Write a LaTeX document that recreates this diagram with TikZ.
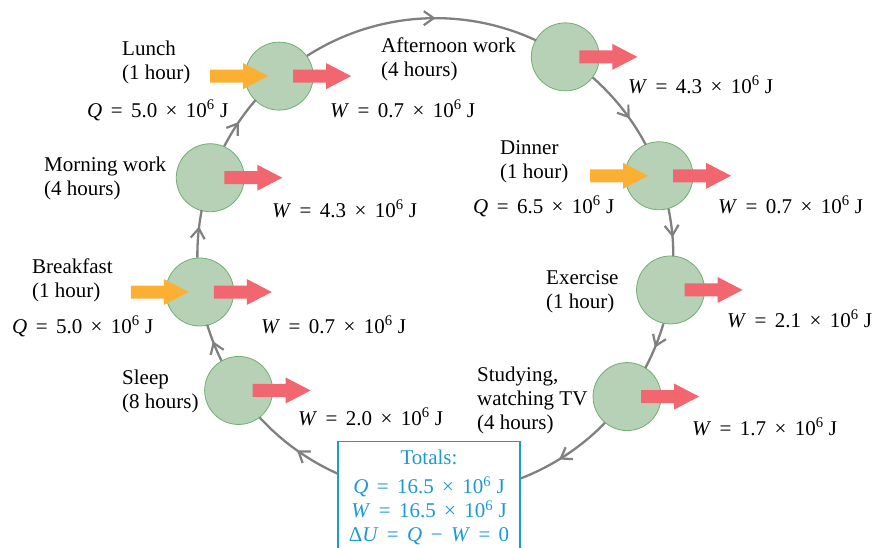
\documentclass[tikz,border=0pt]{standalone}
\usepackage{fontspec}
\setmainfont{Liberation Serif}
\usetikzlibrary{calc,arrows.meta,decorations.markings}
\definecolor{cycgray}{HTML}{808080}
\definecolor{cfill}{HTML}{B6D1B6}
\definecolor{cedge}{HTML}{6FB06F}
\definecolor{qorange}{HTML}{FBB034}
\definecolor{wred}{HTML}{F2666F}
\definecolor{tcyan}{HTML}{1D9AD4}
\newcommand\eqgap{\hspace{0.4em}}
\newcommand\Wlab[1]{\textit{W}\eqgap=\eqgap#1\eqgap×\eqgap10\textsuperscript{6}~J}
\newcommand\Qlab[1]{\textit{Q}\eqgap=\eqgap#1\eqgap×\eqgap10\textsuperscript{6}~J}
\begin{document}
\begin{tikzpicture}[x=1pt,y=1pt,
  every node/.style={font=\fontsize{21}{24}\selectfont},
  lbl/.style={anchor=base west, inner sep=0pt, align=left, text=black},
  stage/.style={circle, minimum size=68pt, inner sep=0pt, fill=cfill, draw=cedge, line width=0.8pt},
  cyc/.style={draw=cycgray, line width=2.3pt, postaction={decorate}},
  mk/.style={decoration={markings, mark=at position #1 with {\arrow[cycgray, line width=2.2pt]{Straight Barb[length=10pt,width=14pt]}}}},
  mktwo/.style 2 args={decoration={markings,
     mark=at position #1 with {\arrow[cycgray, line width=2.2pt]{Straight Barb[length=10pt,width=14pt]}},
     mark=at position #2 with {\arrow[cycgray, line width=2.2pt]{Straight Barb[length=10pt,width=14pt]}}}},
  totbox/.style={draw=tcyan, fill=white, text=tcyan, line width=1.2pt, minimum width=182pt,
     align=center, inner xsep=0pt, inner ysep=8.4pt, anchor=north,
     font=\fontsize{21}{24}\selectfont},
  pics/blockarrow/.style={code={\fill[#1] (0,-6.5) -- (33,-6.5) -- (33,-13) -- (58,0) -- (33,13) -- (33,6.5) -- (0,6.5) -- cycle;}}
]
\useasboundingbox (0,0) rectangle (872,-547);
\clip (0,0) rectangle (872,-547);
\coordinate (C) at (435,-256);

% stages
\node[stage] (lunch) at ($(C)+(130.9:238)$) {};
\node[stage] (aft)   at ($(C)+(56.8:238)$) {};
\node[stage] (din)   at ($(C)+(19.7:238)$) {};
\node[stage] (ex)    at ($(C)+(-8.2:238)$) {};
\node[stage] (stud)  at ($(C)+(-36.2:238)$) {};
\node[stage] (sleep) at ($(C)+(214.4:238)$) {};
\node[stage] (brk)   at ($(C)+(188.7:238)$) {};
\node[stage] (morn)  at ($(C)+(160.8:238)$) {};

% cycle (arcs of one big circle, from stage to stage)
\draw[cyc, mk=0.567] (lunch.36.8) arc[start angle=122.71, end angle=64.99, radius=238];
\draw[cyc, mk=0.64] (aft.-37.3) arc[start angle=48.61, end angle=27.89, radius=238];
\draw[cyc, mk=0.6] (din.-74.4) arc[start angle=11.51, end angle=0, radius=238];
\draw[cyc, mk=0.526] (ex.-102.3) arc[start angle=-16.39, end angle=-28.01, radius=238];
\draw[cyc, mktwo={0.152}{0.871}] (stud.-130.3) arc[start angle=-44.39, end angle=-137.41, radius=238];
\draw[cyc, mk=0.548] (sleep.120.3) arc[start angle=206.21, end angle=196.89, radius=238];
\draw[cyc, mk=0.652] (brk.94.6) arc[start angle=180.51, end angle=168.99, radius=238];
\draw[cyc, mk=0.504] (morn.66.7) arc[start angle=152.61, end angle=139.09, radius=238];

% energy arrows
\pic at ([xshift=-69pt]lunch.center) {blockarrow=qorange};
\pic at ([xshift=-69pt]din.center) {blockarrow=qorange};
\pic at ([xshift=-69pt]brk.center) {blockarrow=qorange};
\foreach \s in {lunch,aft,din,ex,stud,sleep,brk,morn}
  \pic at ([xshift=14pt]\s.center) {blockarrow=wred};

% labels (base = last line)
\node[lbl] (lunchL) at (122,-79) {Lunch\\(1 hour)};
\node[lbl] (lunchQ) at (87,-117) {\Qlab{5.0}};
\node[lbl] (lunchW) at (330,-117) {\Wlab{0.7}};
\node[lbl] (aftL) at (381,-76) {Afternoon work\\(4 hours)};
\node[lbl] (aftW) at (628,-93) {\Wlab{4.3}};
\node[lbl] (dinL) at (500,-178) {Dinner\\(1 hour)};
\node[lbl] (dinQ) at (473,-213) {\Qlab{6.5}};
\node[lbl] (dinW) at (718,-213) {\Wlab{0.7}};
\node[lbl] (exL) at (546,-308) {Exercise\\(1 hour)};
\node[lbl] (exW) at (727,-327) {\Wlab{2.1}};
\node[lbl] (studL) at (477,-429) {Studying,\\watching TV\\(4 hours)};
\node[lbl] (studW) at (692,-435) {\Wlab{1.7}};
\node[lbl] (sleepL) at (122,-408) {Sleep\\(8 hours)};
\node[lbl] (sleepW) at (298,-425) {\Wlab{2.0}};
\node[lbl] (brkL) at (32,-297) {Breakfast\\(1 hour)};
\node[lbl] (brkQ) at (12,-333) {\Qlab{5.0}};
\node[lbl] (brkW) at (261,-333) {\Wlab{0.7}};
\node[lbl] (mornL) at (44,-195) {Morning work\\(4 hours)};
\node[lbl] (mornW) at (272,-217) {\Wlab{4.3}};

% totals
\node[totbox] (tot) at (429,-441) {Totals:\\[5pt]
  \Qlab{16.5}\\
  \Wlab{16.5}\\
  Δ\textit{U}\eqgap=\eqgap\textit{Q}\eqgap−\eqgap\textit{W}\eqgap=\eqgap0};
\end{tikzpicture}
\end{document}
